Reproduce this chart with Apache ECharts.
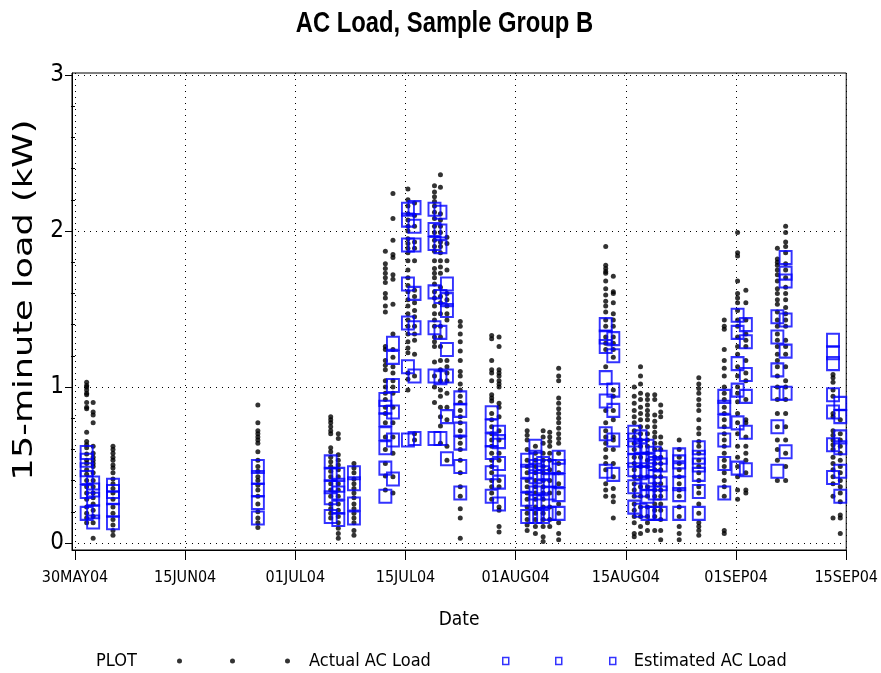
<!DOCTYPE html>
<html><head><meta charset="utf-8">
<script src="https://cdn.jsdelivr.net/npm/echarts@6/dist/echarts.min.js"></script>
<style>html,body{margin:0;padding:0;background:#fff}#c{width:881px;height:673px}</style>
</head><body><div id="c"></div>
<script>
// Tick labels of the date axis (evenly spaced, one unit per tick)
const dateTickLabels = ['30MAY04','15JUN04','01JUL04','15JUL04','01AUG04','15AUG04','01SEP04','15SEP04'];
const loadTicks = [0, 1, 2, 3];
const loadMinorTicks = [0.2,0.4,0.6,0.8,1.2,1.4,1.6,1.8,2.2,2.4,2.6,2.8];

// Position of each daily strip along the date axis (in tick units)
const stripPos = [0.106,0.165,0.345,1.66,2.321,2.39,2.532,2.817,2.886,3.022,3.082,3.263,3.317,3.376,3.497,
  3.782,3.849,4.104,4.179,4.249,4.309,4.39,4.817,4.886,5.076,5.133,5.196,5.262,5.316,5.484,5.662,
  5.893,6.014,6.089,6.375,6.45,6.88,6.946];

// Actual AC load (kW) per strip
const actualLoad = [
  [1.03,1.01,1.0,0.98,0.96,0.95,0.90,0.87,0.86,0.71,0.65,0.63,0.61,0.57,0.53,0.51,0.47,0.44,0.40,0.36,0.32,0.28,0.23,0.19,0.16,0.13],
  [0.90,0.84,0.82,0.77,0.62,0.575,0.55,0.53,0.51,0.49,0.45,0.40,0.36,0.32,0.29,0.25,0.21,0.17,0.13,0.03],
  [0.62,0.60,0.575,0.55,0.53,0.50,0.48,0.45,0.41,0.38,0.35,0.32,0.28,0.23,0.19,0.15,0.115,0.08,0.05],
  [0.885,0.77,0.72,0.70,0.68,0.66,0.64,0.585,0.53,0.49,0.46,0.425,0.40,0.37,0.34,0.30,0.25,0.20,0.16,0.13,0.10],
  [0.81,0.79,0.77,0.745,0.72,0.70,0.61,0.585,0.55,0.52,0.49,0.46,0.425,0.38,0.34,0.30,0.25,0.22,0.19,0.16],
  [0.70,0.67,0.565,0.53,0.50,0.47,0.425,0.38,0.34,0.30,0.25,0.21,0.17,0.13,0.095,0.06,0.03],
  [0.51,0.48,0.45,0.41,0.38,0.35,0.32,0.29,0.25,0.22,0.19,0.16,0.13,0.08,0.05],
  [1.87,1.79,1.76,1.73,1.70,1.67,1.60,1.57,1.52,1.48,1.26,1.24,1.17,1.14,1.11,1.04,1.00,0.96,0.92,0.87,0.83,0.77,0.68,0.60,0.51,0.43,0.34],
  [2.24,2.08,1.94,1.85,1.83,1.72,1.69,1.53,1.34,1.24,1.19,1.13,1.09,1.04,1.00,0.96,0.87,0.77,0.68,0.575,0.425,0.32],
  [2.27,2.2,2.16,2.11,2.07,2.03,2.0,1.95,1.92,1.89,1.86,1.81,1.75,1.70,1.65,1.61,1.56,1.52,1.47,1.43,1.39,1.34,1.29,1.25,1.22,1.09,1.05,0.98],
  [2.18,2.10,2.03,1.93,1.89,1.81,1.62,1.58,1.54,1.49,1.45,1.39,1.34,1.30,1.21,1.07,0.70,0.66],
  [2.29,2.25,2.22,2.19,2.16,2.12,2.08,2.03,1.99,1.94,1.90,1.87,1.81,1.76,1.73,1.70,1.66,1.61,1.57,1.52,1.47,1.43,1.39,1.32,1.29,1.26,1.16,1.07,1.00,0.90],
  [2.36,2.28,2.11,2.07,2.03,1.99,1.93,1.90,1.86,1.81,1.77,1.73,1.64,1.58,1.54,1.47,1.39,1.32,1.26,1.17,1.11,1.04,0.98,0.94,0.87,0.81,0.75,0.64],
  [1.96,1.92,1.81,1.75,1.60,1.56,1.52,1.47,1.43,1.17,1.13,1.09,1.04,0.96,0.87,0.79,0.62,0.53],
  [1.42,1.39,1.34,1.29,1.23,1.17,1.10,1.07,1.02,0.98,0.94,0.90,0.85,0.81,0.77,0.72,0.68,0.64,0.60,0.53,0.45,0.36,0.30,0.22,0.16,0.03],
  [1.33,1.31,1.17,1.11,1.09,1.04,0.95,0.93,0.91,0.83,0.79,0.745,0.70,0.66,0.62,0.575,0.53,0.49,0.45,0.40,0.36,0.32,0.28],
  [1.32,1.26,1.11,1.09,1.07,1.04,1.02,1.0,0.895,0.87,0.81,0.72,0.66,0.575,0.53,0.40,0.36,0.23,0.21,0.105,0.07],
  [0.79,0.72,0.69,0.66,0.60,0.53,0.49,0.45,0.40,0.36,0.32,0.28,0.23,0.19,0.15,0.115,0.08],
  [0.62,0.575,0.53,0.49,0.45,0.40,0.36,0.32,0.28,0.23,0.19,0.15,0.105,0.06],
  [0.72,0.68,0.64,0.575,0.53,0.49,0.45,0.40,0.36,0.32,0.28,0.23,0.19,0.15,0.105,0.04,0.01],
  [0.71,0.68,0.65,0.62,0.575,0.53,0.47,0.40,0.32,0.23,0.15,0.105],
  [1.12,1.07,1.04,0.93,0.895,0.86,0.83,0.80,0.77,0.735,0.70,0.67,0.64,0.575,0.51,0.45,0.38,0.32,0.25,0.19,0.13,0.06,0.02],
  [1.90,1.78,1.76,1.74,1.73,1.68,1.63,1.59,1.55,1.52,1.48,1.43,1.39,1.32,1.28,1.24,1.13,0.85,0.77,0.72,0.68,0.64,0.60,0.55,0.51,0.47,0.38,0.34,0.30],
  [1.71,1.61,1.60,1.54,1.47,1.43,1.39,1.32,1.28,1.24,1.19,0.98,0.94,0.85,0.79,0.68,0.66,0.60,0.51,0.425,0.35,0.30,0.265,0.16],
  [1.0,0.94,0.895,0.85,0.81,0.77,0.72,0.68,0.64,0.60,0.55,0.51,0.47,0.425,0.38,0.34,0.30,0.25,0.21,0.17,0.13,0.06,0.04],
  [1.13,1.07,1.02,0.96,0.92,0.87,0.83,0.79,0.745,0.70,0.66,0.62,0.55,0.49,0.425,0.36,0.30,0.23,0.17,0.105,0.06],
  [0.95,0.92,0.885,0.85,0.82,0.79,0.745,0.70,0.66,0.62,0.575,0.53,0.49,0.425,0.36,0.30,0.23,0.17,0.13,0.08],
  [0.95,0.92,0.82,0.78,0.745,0.71,0.68,0.64,0.60,0.55,0.51,0.47,0.425,0.38,0.34,0.30,0.25,0.21,0.17,0.08],
  [0.885,0.84,0.81,0.68,0.64,0.60,0.55,0.51,0.47,0.425,0.38,0.34,0.30,0.25,0.21,0.15,0.08,0.02],
  [0.66,0.60,0.55,0.51,0.47,0.425,0.38,0.34,0.30,0.23,0.17,0.105,0.06,0.02],
  [1.06,1.02,0.99,0.96,0.92,0.885,0.85,0.79,0.735,0.70,0.65,0.62,0.575,0.53,0.49,0.45,0.40,0.36,0.32,0.25,0.19,0.13,0.105,0.08,0.05],
  [1.43,1.39,1.37,1.24,1.17,1.12,1.07,1.0,0.96,0.92,0.87,0.83,0.79,0.745,0.70,0.66,0.62,0.575,0.53,0.49,0.45,0.40,0.36,0.30,0.08,0.06],
  [1.99,1.86,1.84,1.68,1.60,1.57,1.54,1.49,1.43,1.39,1.32,1.26,1.21,1.13,1.07,1.0,0.96,0.905,0.83,0.77,0.70,0.62,0.55,0.49,0.425,0.34,0.28],
  [1.62,1.54,1.43,1.34,1.30,1.26,1.17,1.09,1.04,0.92,0.79,0.77,0.68,0.62,0.575,0.53,0.45,0.34,0.32],
  [1.89,1.82,1.80,1.78,1.75,1.72,1.68,1.63,1.60,1.56,1.53,1.48,1.43,1.39,1.34,1.30,1.26,1.21,1.17,1.13,1.07,1.0,0.92,0.83,0.745,0.66,0.60,0.53,0.40],
  [2.03,1.99,1.93,1.90,1.86,1.79,1.75,1.70,1.64,1.60,1.56,1.51,1.47,1.43,1.39,1.30,1.26,1.21,1.13,1.04,1.0,0.92,0.83,0.745,0.66,0.575,0.49,0.40],
  [1.08,1.06,1.03,0.98,0.94,0.83,0.81,0.72,0.69,0.66,0.63,0.60,0.55,0.51,0.47,0.425,0.38,0.30,0.16],
  [0.79,0.70,0.66,0.62,0.575,0.53,0.49,0.45,0.40,0.36,0.32,0.265,0.18,0.16,0.06]
];

// Estimated AC load (kW) per strip
const estimatedLoad = [
  [0.58,0.53,0.47,0.42,0.33,0.19],
  [0.385,0.34,0.28,0.2,0.135],
  [0.37,0.33,0.29,0.21,0.13],
  [0.49,0.42,0.34,0.26,0.16],
  [0.52,0.44,0.36,0.29,0.17],
  [0.44,0.37,0.32,0.23,0.15],
  [0.45,0.38,0.25,0.16],
  [0.92,0.87,0.79,0.70,0.61,0.48,0.30],
  [1.28,1.19,1.01,0.84,0.66,0.41],
  [2.14,2.07,1.91,1.66,1.41,1.13,0.66],
  [2.15,2.03,1.91,1.60,1.38,1.07,0.67],
  [2.14,2.01,1.92,1.61,1.38,1.07,0.67],
  [2.12,2.0,1.90,1.58,1.35,1.06,0.67],
  [1.66,1.56,1.49,1.24,1.07,0.81,0.54],
  [0.93,0.85,0.73,0.64,0.49,0.32],
  [0.835,0.75,0.66,0.58,0.45,0.30],
  [0.71,0.65,0.51,0.39,0.25],
  [0.53,0.46,0.37,0.28,0.17],
  [0.62,0.55,0.49,0.425,0.32,0.265,0.17],
  [0.51,0.45,0.36,0.265,0.17],
  [0.49,0.40,0.32,0.19],
  [0.55,0.49,0.40,0.31,0.19],
  [1.40,1.32,1.26,1.06,0.91,0.70,0.46],
  [1.31,1.20,0.98,0.85,0.66,0.44],
  [0.71,0.66,0.61,0.53,0.47,0.36,0.23],
  [0.68,0.62,0.53,0.45,0.34,0.21],
  [0.62,0.53,0.47,0.38,0.30,0.19],
  [0.575,0.51,0.425,0.32,0.19],
  [0.55,0.50,0.38,0.32,0.19],
  [0.565,0.52,0.47,0.38,0.31,0.19],
  [0.61,0.55,0.50,0.44,0.33,0.19],
  [0.94,0.87,0.78,0.66,0.51,0.32],
  [1.46,1.35,1.15,0.98,0.77,0.48],
  [1.40,1.29,1.08,0.94,0.71,0.47],
  [1.45,1.32,1.11,0.96,0.745,0.46],
  [1.83,1.73,1.68,1.43,1.23,0.96,0.585],
  [1.30,1.22,1.15,0.95,0.84,0.63,0.42],
  [0.895,0.81,0.68,0.61,0.46,0.30]
];

const actualPts = [], estimatedPts = [];
stripPos.forEach((x, i) => {
  actualLoad[i].forEach(v => actualPts.push([x, v]));
  estimatedLoad[i].forEach(v => estimatedPts.push([x, v]));
});

const cond = "'DejaVu Sans Condensed','DejaVu Sans',sans-serif";
const tickIdx = dateTickLabels.map((_, i) => i);
const dotted = { type: [1, 5], color: '#000', width: 1 };

const chart = echarts.init(document.getElementById('c'), null, { renderer: 'canvas' });
chart.setOption({
  animation: false,
  backgroundColor: '#fff',
  grid: { left: 72, right: 30, top: 73, bottom: 123, show: true, borderColor: '#000', borderWidth: 1 },
  xAxis: {
    type: 'value', min: -0.027, max: 7,
    name: 'Date', nameLocation: 'middle', nameGap: 61,
    nameTextStyle: { fontFamily: cond, fontSize: 19, color: '#000' },
    axisLine: { show: true, onZero: false, lineStyle: { color: '#000', width: 1 } },
    axisTick: { show: true, length: 10, customValues: tickIdx, lineStyle: { color: '#000' } },
    axisLabel: { customValues: tickIdx, formatter: v => dateTickLabels[Math.round(v)], margin: 20,
      fontFamily: cond, fontSize: 16, color: '#000' },
    splitLine: { show: true, lineStyle: dotted }
  },
  yAxis: [{
    type: 'value', min: -0.045, max: 3.013, position: 'left',
    axisLine: { show: true, onZero: false, lineStyle: { color: '#000', width: 1 } },
    axisTick: { show: true, length: 7, customValues: loadTicks, lineStyle: { color: '#000' } },
    axisLabel: { customValues: loadTicks, margin: 8, fontFamily: cond, fontSize: 24, color: '#000' },
    splitLine: { show: true, lineStyle: dotted }
  }, {
    type: 'value', min: -0.045, max: 3.013, position: 'left', offset: 0,
    axisLine: { show: false }, axisLabel: { show: false }, splitLine: { show: false },
    axisTick: { show: true, length: 4, customValues: loadMinorTicks, lineStyle: { color: '#000' } }
  }],
  legend: [{
    left: 177, top: 652, padding: 0, itemWidth: 113, itemHeight: 5,
    data: [{ name: 'Actual AC Load',
      icon: 'path://M0,2.5a2.5,2.5 0 1,0 5,0a2.5,2.5 0 1,0 -5,0Z M53,2.5a2.5,2.5 0 1,0 5,0a2.5,2.5 0 1,0 -5,0Z M108,2.5a2.5,2.5 0 1,0 5,0a2.5,2.5 0 1,0 -5,0Z',
      itemStyle: { color: '#000' } }],
    textStyle: { fontFamily: cond, fontSize: 18, color: '#000', padding: [0, 0, 0, 14] }
  }, {
    left: 502, top: 652, padding: 0, itemWidth: 113, itemHeight: 7,
    data: [{ name: 'Estimated AC Load',
      icon: 'path://M0,0H6V7H0Z M53,0H59V7H53Z M107,0H113V7H107Z',
      itemStyle: { color: 'transparent', borderColor: '#0000ff', borderWidth: 1.5 } }],
    textStyle: { fontFamily: cond, fontSize: 18, color: '#000', padding: [0, 0, 0, 13] }
  }],
  graphic: [{
    type: 'text', x: 444.5, y: 9, scaleX: 0.82,
    style: { text: 'AC Load, Sample Group B', x: 0, y: 0, align: 'center', verticalAlign: 'top',
      fontFamily: "'Liberation Sans',Arial,sans-serif", fontWeight: 'bold', fontSize: 29, fill: '#000' }
  }, {
    type: 'text', x: 25, y: 300, rotation: Math.PI / 2, scaleX: 1.3,
    style: { text: '15-minute load (kW)', x: 0, y: 0, align: 'center', verticalAlign: 'middle',
      fontFamily: "'DejaVu Sans',sans-serif", fontSize: 27, fill: '#000' }
  }, {
    type: 'text', left: 96, top: 652,
    style: { text: 'PLOT', fontFamily: cond, fontSize: 18, fill: '#000' }
  }],
  series: [{
    name: 'Actual AC Load', type: 'scatter', data: actualPts, yAxisIndex: 0,
    symbol: 'circle', symbolSize: 5, itemStyle: { color: '#000' }, z: 2
  }, {
    name: 'Estimated AC Load', type: 'scatter', data: estimatedPts, yAxisIndex: 0,
    symbol: 'rect', symbolSize: [12, 13],
    itemStyle: { color: 'transparent', borderColor: '#0000ff', borderWidth: 2 }, z: 3
  }]
});
</script></body></html>
